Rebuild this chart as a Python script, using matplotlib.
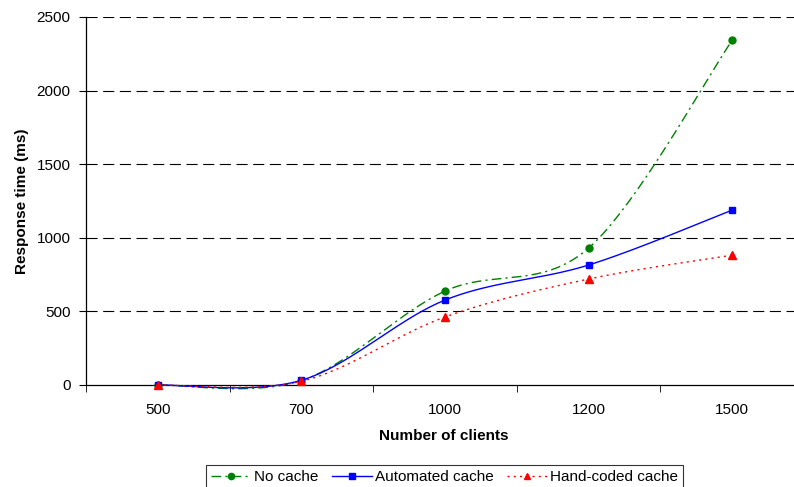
import numpy as np
import matplotlib.pyplot as plt
from matplotlib.lines import Line2D

plt.rcParams['font.family'] = ['Liberation Sans', 'DejaVu Sans']

# data
clients = ['500', '700', '1000', '1200', '1500']
no_cache = [0, 30, 638, 930, 2342]
automated = [0, 32, 577, 815, 1188]
hand_coded = [0, 25, 462, 720, 882]


def smooth(xs, ys, n=40):
    # Excel-like smoothed line: cubic bezier through the points
    xs = np.asarray(xs, float)
    ys = np.asarray(ys, float)
    px, py = [], []
    for i in range(len(xs) - 1):
        i0 = max(i - 1, 0)
        i3 = min(i + 2, len(xs) - 1)
        c1x = xs[i] + (xs[i + 1] - xs[i0]) / 6
        c1y = ys[i] + (ys[i + 1] - ys[i0]) / 6
        c2x = xs[i + 1] - (xs[i3] - xs[i]) / 6
        c2y = ys[i + 1] - (ys[i3] - ys[i]) / 6
        t = np.linspace(0, 1, n)
        a, b, c, d = (1 - t) ** 3, 3 * (1 - t) ** 2 * t, 3 * (1 - t) * t ** 2, t ** 3
        px.extend(a * xs[i] + b * c1x + c * c2x + d * xs[i + 1])
        py.extend(a * ys[i] + b * c1y + c * c2y + d * ys[i + 1])
    return px, py


W, H = 794, 487
fig = plt.figure(figsize=(W / 100, H / 100), dpi=100)
ax = fig.add_axes([86 / W, (H - 385) / H, 718 / W, 368 / H])

x = np.arange(len(clients))
series = [
    (no_cache, 'No cache', '#008000', (0, (7, 3, 1.5, 3)), 'o', 5),
    (automated, 'Automated cache', '#0000ff', '-', 's', 5),
    (hand_coded, 'Hand-coded cache', '#ff0000', (0, (1.5, 3)), '^', 5.5),
]
handles = []
for ys, label, col, ls, mk, ms in series:
    sx, sy = smooth(x, ys)
    ax.plot(sx, sy, color=col, linestyle=ls, linewidth=1, zorder=3, clip_on=False)
    ax.plot(x, ys, linestyle='none', marker=mk, markersize=ms, color=col, zorder=4,
            clip_on=False)
    handles.append(Line2D([], [], color=col, linestyle=ls, linewidth=1,
                          marker=mk, markersize=4.5, label=label))

ax.set_xlim(-0.5, len(clients) - 0.5)
ax.set_ylim(0, 2500)
ax.set_yticks(np.arange(0, 2501, 500))
ax.set_xticks(x)
ax.set_xticklabels(clients)
ax.set_xticks(np.arange(-0.5, len(clients), 1), minor=True)
ax.tick_params(axis='x', which='major', length=0, pad=13, labelsize=11)
ax.tick_params(axis='x', which='minor', length=5, direction='out', color='black')
ax.tick_params(axis='y', length=5, direction='out', labelsize=11, pad=6)

for v in np.arange(500, 2501, 500):
    ax.axhline(v, color='black', linewidth=0.8, linestyle=(0, (10, 5)), zorder=1)

ax.spines['top'].set_visible(False)
ax.spines['right'].set_visible(False)
ax.spines['left'].set_linewidth(0.9)
ax.spines['bottom'].set_linewidth(0.9)

ax.set_xlabel('Number of clients', fontsize=11, fontweight='bold')
ax.set_ylabel('Response time (ms)', fontsize=11, fontweight='bold')
ax.xaxis.set_label_coords((444 - 86) / 718, -(436 - 385) / 368)
ax.yaxis.set_label_coords(-(86 - 22) / 718, 0.5)
ax.xaxis.label.set_va('center')
ax.yaxis.label.set_va('center')

leg = fig.legend(handles=handles, loc='center', bbox_to_anchor=(444.5 / W, (H - 477) / H),
                 ncol=3, fontsize=11, frameon=True, fancybox=False, edgecolor='black',
                 handlelength=2.6, columnspacing=0.9, handletextpad=0.2, borderpad=0.35,
                 numpoints=1)
leg.get_frame().set_linewidth(0.8)

fig.savefig('out.png', dpi=100)
